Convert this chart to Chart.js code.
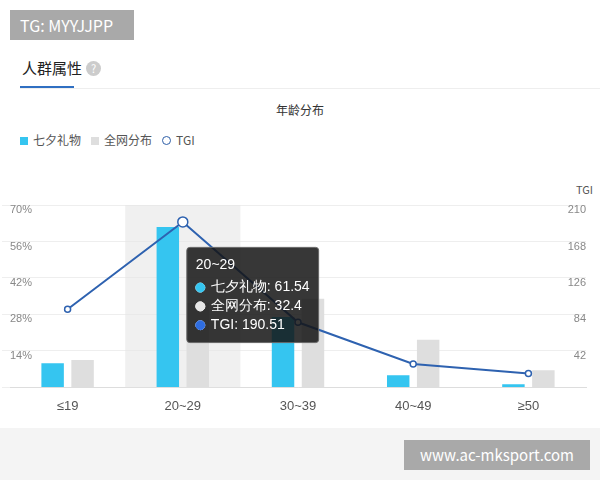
<!DOCTYPE html>
<html><head><meta charset="utf-8">
<script src="https://cdn.jsdelivr.net/npm/chart.js@4"></script>
<style>
body{margin:0;width:600px;height:480px;background:#fff;font-family:"Noto Sans CJK SC","Noto Sans",sans-serif;position:relative;overflow:hidden}
.tag{position:absolute;left:10px;top:10px;width:124px;height:30px;background:#a9a9a9;color:#fff;font-size:16px;line-height:30px;padding-left:10px;box-sizing:border-box}
.tab{position:absolute;left:22px;top:57px;font-size:15px;color:#222}
.q{display:inline-block;width:15px;height:15px;border-radius:50%;background:#ccc;color:#fff;font-size:11px;text-align:center;line-height:15px;margin-left:4px;vertical-align:1px}
.ul{position:absolute;left:20px;top:86px;width:54px;height:2px;background:#2f6fc2}
.hr{position:absolute;left:20px;right:0;top:88px;height:1px;background:#eee}
.title{position:absolute;left:0;width:600px;top:101px;text-align:center;font-size:12px;color:#333}
.legend{position:absolute;left:20px;top:131px;font-size:12px;color:#555}
.legend span{margin-right:10px}
.sq{display:inline-block;width:8px;height:8px;margin-right:5px;vertical-align:0}
.circ{display:inline-block;width:7px;height:7px;border:1.5px solid #2e5fa8;border-radius:50%;margin-right:5px}
.tgi{position:absolute;left:576px;top:181px;font-size:11px;color:#555}
.foot{position:absolute;left:0;right:0;top:428px;height:52px;background:#f4f4f4}
.wm{position:absolute;left:404px;top:440px;width:186px;height:30px;background:#a9a9a9;color:#fff;font-size:15px;line-height:30px;text-align:center}
#box{position:absolute;left:2px;top:193px;width:592px;height:224px}
</style></head><body>
<div class="tag">TG: MYYJJPP</div>
<div class="tab">人群属性<span class="q">?</span></div>
<div class="hr"></div><div class="ul"></div>
<div class="title">年龄分布</div>
<div class="legend"><span><i class="sq" style="background:#35c5f0"></i>七夕礼物</span><span><i class="sq" style="background:#dedede"></i>全网分布</span><span><i class="circ"></i>TGI</span></div>
<div class="tgi">TGI</div>
<div id="box"><canvas id="c"></canvas></div>
<div class="foot"></div>
<div class="wm">www.ac-mksport.com</div>
<script>
var labels = ['≤19', '20~29', '30~39', '40~49', '≥50'];
var giftValues = [9.3, 61.54, 27, 4.7, 1.2];
var allValues = [10.5, 32.4, 34, 18.3, 6.6];
var tgiValues = [90, 190.51, 75, 27, 16];

Chart.Tooltip.positioners.fixedBox = function(items) {
    if (!items.length) return false;
    return { x: items[0].element.x + 22, y: this.chart.scales.y.getPixelForValue(54.5) };
};

var hoverBand = {
    id: 'hoverBand',
    beforeDatasetsDraw: function(chart) {
        var x = chart.scales.x, a = chart.chartArea, ctx = chart.ctx;
        var w = (x.getPixelForValue(1) - x.getPixelForValue(0));
        ctx.save();
        ctx.fillStyle = 'rgba(230,230,230,0.6)';
        ctx.fillRect(x.getPixelForValue(1) - w / 2, a.top, w, a.bottom - a.top);
        ctx.restore();
    }
};

var chart = new Chart(document.getElementById('c'), {
    type: 'bar',
    data: {
        labels: labels,
        datasets: [
            { type: 'line', label: 'TGI', data: tgiValues, yAxisID: 'y2', borderColor: '#2e62b0', borderWidth: 2,
              pointBackgroundColor: '#fff', pointBorderColor: '#2e62b0', pointBorderWidth: 1.5,
              pointRadius: [3, 5, 3, 3, 3], tension: 0, order: 0 },
            { label: '七夕礼物', data: giftValues, backgroundColor: '#35c5f0', yAxisID: 'y', order: 1,
              barPercentage: 0.75, categoryPercentage: 0.52 },
            { label: '全网分布', data: allValues, backgroundColor: '#dedede', yAxisID: 'y', order: 2,
              barPercentage: 0.75, categoryPercentage: 0.52 }
        ]
    },
    options: {
        responsive: true, maintainAspectRatio: false, animation: false,
        layout: { padding: { left: 0, right: 0, top: 12 } },
        scales: {
            x: { grid: { display: false }, border: { color: '#ddd' },
                 ticks: { color: '#555', font: { size: 13 } } },
            y: { min: 0, max: 70, position: 'left', border: { display: false },
                 grid: { color: '#eee' },
                 ticks: { stepSize: 14, color: '#888', font: { size: 11 }, mirror: true, padding: 0, labelOffset: 5,
                          callback: function(v) { return v === 0 ? '' : v + '%'; } } },
            y2: { min: 0, max: 210, position: 'right', border: { display: false },
                  grid: { display: false },
                  ticks: { stepSize: 42, color: '#888', font: { size: 11 }, mirror: true, padding: 0, labelOffset: 5,
                           callback: function(v) { return v === 0 ? '' : v; } } }
        },
        plugins: {
            legend: { display: false },
            tooltip: {
                position: 'fixedBox', xAlign: 'left', yAlign: 'top',
                mode: 'index', intersect: false,
                backgroundColor: 'rgba(20,20,20,0.85)', borderColor: '#666', borderWidth: 1,
                titleFont: { size: 14, weight: 'normal' }, bodyFont: { size: 14 },
                titleColor: '#fff', bodyColor: '#fff', padding: 9, caretSize: 0, cornerRadius: 3,
                boxWidth: 9, boxHeight: 9, boxPadding: 4, usePointStyle: true,
                itemSort: function(a, b) { return [1, 2, 0].indexOf(a.datasetIndex) - [1, 2, 0].indexOf(b.datasetIndex); },
                callbacks: {
                    labelPointStyle: function() { return { pointStyle: 'circle', rotation: 0 }; },
                    labelColor: function(c) {
                        var col = ['#2f6de0', '#35c5f0', '#e6e6e6'][c.datasetIndex];
                        return { backgroundColor: col, borderColor: col };
                    },
                    label: function(c) { return c.dataset.label + ': ' + c.raw; }
                }
            }
        }
    },
    plugins: [hoverBand]
});

chart.tooltip.setActiveElements([
    { datasetIndex: 1, index: 1 }, { datasetIndex: 2, index: 1 }, { datasetIndex: 0, index: 1 }
], { x: 0, y: 0 });
chart.update();
</script>
</body></html>
